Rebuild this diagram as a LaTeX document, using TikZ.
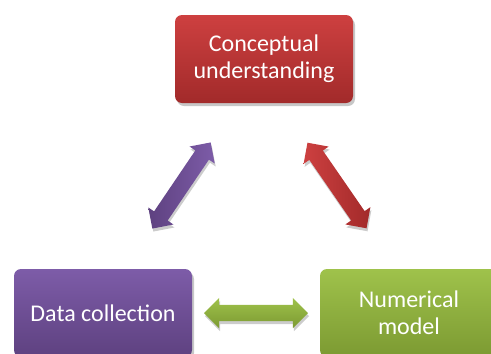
\documentclass[tikz,border=0pt]{standalone}
\usepackage{fontspec}
\setmainfont{Carlito}
\usetikzlibrary{shapes.arrows,shadows}
\definecolor{redT}{HTML}{CD4040}
\definecolor{redB}{HTML}{A22A2A}
\definecolor{purT}{HTML}{7D5CA8}
\definecolor{purB}{HTML}{5E4180}
\definecolor{grnT}{HTML}{9FC24B}
\definecolor{grnB}{HTML}{7C9A32}
\tikzset{
  box/.style={rounded corners=7pt, minimum width=178pt, minimum height=88pt,
    align=center, text=white, font=\fontsize{24}{27}\selectfont,
    drop shadow={shadow xshift=2pt, shadow yshift=-3pt, opacity=0.22, fill=black}},
  barrow/.style={double arrow, minimum height=104pt, inner sep=0pt,
    text height=16pt, text depth=0pt, text width=0pt,
    double arrow head extend=7pt,
    drop shadow={shadow xshift=1pt, shadow yshift=-3pt, opacity=0.2, fill=black}},
}
\begin{document}
\begin{tikzpicture}[x=1pt,y=-1pt]
\useasboundingbox (0,0) rectangle (491,354);
\clip (0,0) rectangle (491,354);
\node[box, top color=redT, bottom color=redB] (cu) at (264,59) {Conceptual\\understanding};
\node[box, top color=purT, bottom color=purB] (dc) at (103,313) {Data collection};
\node[box, top color=grnT, bottom color=grnB] (nm) at (409,313) {Numerical\\model};
\node[barrow, top color=grnT, bottom color=grnB] (a1) at (256,313) {};
\node[barrow, rotate=55.9, left color=purB, right color=purT] (a2) at (181.5,185.5) {};
\node[barrow, rotate=-55.4, left color=redT, right color=redB] (a3) at (337,185.5) {};
\end{tikzpicture}
\end{document}
